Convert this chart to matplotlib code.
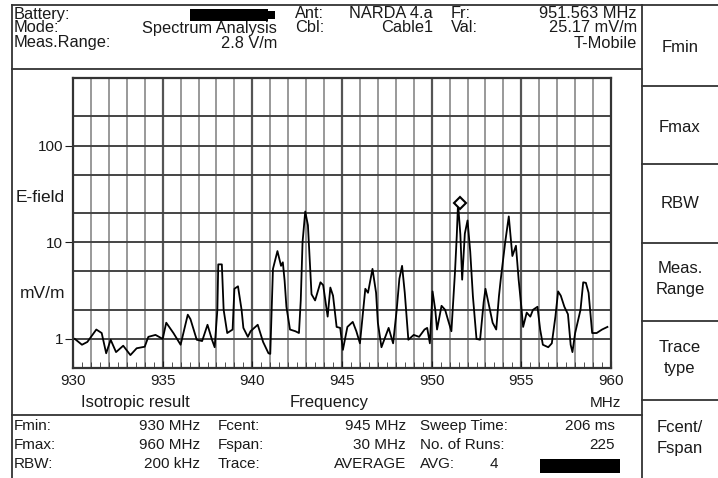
import matplotlib.pyplot as plt
from matplotlib.patches import Rectangle
from matplotlib.lines import Line2D

plt.rcParams['font.family'] = ['Liberation Sans', 'DejaVu Sans']

# spectrum trace (MHz, mV/m)
freq = [930.1, 930.5, 930.8, 931.3, 931.6, 931.85, 932.1, 932.4, 932.8, 933.2,
        933.55, 934.0, 934.2, 934.6, 935.0, 935.2, 935.6, 936.0, 936.4, 936.55,
        936.9, 937.2, 937.5, 937.75, 937.9, 938.05, 938.1, 938.3, 938.4, 938.6,
        938.9, 939.0, 939.2, 939.4, 939.5, 939.75, 939.9, 940.3, 940.6, 940.9,
        941.0, 941.15, 941.4, 941.6, 941.7, 941.8, 941.9, 942.1, 942.4, 942.6,
        942.7, 942.8, 942.95, 943.1, 943.3, 943.5, 943.8, 943.95, 944.2, 944.35,
        944.5, 944.7, 944.9, 945.05, 945.3, 945.6, 945.8, 946.0, 946.3, 946.45,
        946.7, 946.9, 947.0, 947.2, 947.6, 947.85, 948.05, 948.2, 948.35, 948.5,
        948.7, 949.0, 949.3, 949.6, 949.75, 949.9, 950.05, 950.2, 950.3, 950.55,
        950.75, 950.9, 951.1, 951.3, 951.4, 951.47, 951.6, 951.7, 951.85, 952.0,
        952.15, 952.3, 952.5, 952.7, 952.9, 953.0, 953.2, 953.4, 953.6, 953.75,
        953.85, 954.1, 954.3, 954.5, 954.7, 954.8, 954.85, 955.0, 955.1, 955.3,
        955.5, 955.65, 955.9, 956.05, 956.2, 956.5, 956.7, 956.9, 957.05, 957.2,
        957.4, 957.6, 957.75, 957.85, 958.0, 958.3, 958.45, 958.6, 958.75, 958.95,
        959.2, 959.5, 959.8]
efield = [1.0, 0.87, 0.93, 1.25, 1.15, 0.71, 0.98, 0.73, 0.85, 0.68,
          0.80, 0.83, 1.05, 1.10, 1.00, 1.47, 1.15, 0.87, 1.78, 1.6,
          0.98, 0.95, 1.40, 0.98, 0.82, 2.0, 5.9, 5.9, 2.0, 1.15,
          1.25, 3.3, 3.5, 2.0, 1.3, 1.05, 1.2, 1.4, 0.93, 0.71,
          0.70, 5.3, 8.1, 5.7, 6.2, 4.0, 2.15, 1.25, 1.2, 1.15,
          2.5, 10.0, 20.8, 15.0, 2.9, 2.5, 3.85, 3.6, 1.7, 3.4,
          2.8, 1.33, 1.3, 0.77, 1.33, 1.5, 1.2, 0.9, 3.3, 3.0,
          5.3, 3.0, 1.47, 0.82, 1.3, 0.90, 2.0, 4.2, 5.7, 3.0,
          0.98, 1.1, 1.05, 1.25, 1.3, 0.90, 3.1, 2.0, 1.25, 2.2,
          2.0, 1.6, 1.2, 4.9, 11.7, 25.2, 12.0, 4.1, 12.3, 16.8,
          8.0, 2.75, 1.0, 0.98, 2.4, 3.3, 2.2, 1.47, 1.25, 2.75,
          4.1, 10.0, 18.5, 7.2, 9.2, 5.3, 4.1, 2.15, 1.33, 1.87,
          1.7, 2.0, 2.15, 1.25, 0.87, 0.82, 0.90, 1.7, 3.1, 2.8,
          2.15, 1.8, 0.87, 0.73, 1.15, 2.0, 3.85, 3.8, 3.0, 1.15,
          1.15, 1.25, 1.33]
marker_f = 951.563
marker_v = 25.17

xticks = [930, 935, 940, 945, 950, 955, 960]
ygrid = [1, 2, 5, 10, 20, 50, 100, 200]
yticks = [1, 10, 100]

W, H = 718, 478
FS = 11
FH = 11.8
TC = '#1a1a1a'
LC = '#333333'

fig = plt.figure(figsize=(W / 100, H / 100), dpi=100)


def fx(x):
    return x / W


def fy(y):
    return 1 - y / H


def txt(x, y, s, ha='left', size=FS, **kw):
    fig.text(fx(x), fy(y), s, ha=ha, va='center', fontsize=size, color=TC, **kw)


def line(x0, y0, x1, y1, lw=1.3, c=LC):
    fig.add_artist(Line2D([fx(x0), fx(x1)], [fy(y0), fy(y1)], color=c, lw=lw))


def bar(x0, y0, x1, y1):
    fig.add_artist(Rectangle((fx(x0), fy(y1)), fx(x1) - fx(x0), fy(y0) - fy(y1),
                             transform=fig.transFigure, color='black', lw=0))


# frames
line(12, 5, 642, 5)
line(12, 69, 642, 69)
line(12, 415, 642, 415)
line(12, 5, 12, 478)
line(642, 5, 642, 478)
for y in [5, 86, 164, 243, 321, 400]:
    line(642, y, 718, y)

# header
txt(14, 14, 'Battery:', size=FH)
bar(190, 9, 268, 21)
bar(268, 11, 275, 19)
txt(14, 28, 'Mode:', size=FH)
txt(277, 28, 'Spectrum Analysis', ha='right', size=FH)
txt(14, 43, 'Meas.Range:', size=FH)
txt(277, 43, '2.8 V/m', ha='right', size=FH)
txt(295, 14, 'Ant:', size=FH)
txt(433, 14, 'NARDA 4.a', ha='right', size=FH)
txt(295, 28, 'Cbl:', size=FH)
txt(433, 28, 'Cable1', ha='right', size=FH)
txt(451, 14, 'Fr:', size=FH)
txt(637, 14, '951.563 MHz', ha='right', size=FH)
txt(451, 28, 'Val:', size=FH)
txt(637, 28, '25.17 mV/m', ha='right', size=FH)
txt(637, 43, 'T-Mobile', ha='right', size=FH)

# soft keys
for y, s in [(47, 'Fmin'), (127, 'Fmax'), (203, 'RBW'), (279, 'Meas.\nRange'),
             (358, 'Trace\ntype'), (438, 'Fcent/\nFspan')]:
    fig.text(fx(680), fy(y), s, ha='center', va='center', fontsize=12,
             color=TC, linespacing=1.45)

# plot
ax = fig.add_axes([fx(73), fy(368), fx(611) - fx(73), fy(78) - fy(368)])
ax.set_yscale('log')
ax.set_xlim(930, 960)
ax.set_ylim(0.5, 500)
for f in range(931, 960):
    c = '#555555' if f % 5 == 0 else '#999999'
    ax.axvline(f, color=c, lw=1.6 if f % 5 == 0 else 1.4, zorder=1)
for v in ygrid:
    ax.axhline(v, color='#444444', lw=1.4, zorder=1)
ax.plot(freq, efield, color='black', lw=1.3, zorder=3)
ax.plot([marker_f], [marker_v], marker='D', ms=6, mfc='white',
        mec='black', mew=1.5, zorder=4)
for s in ax.spines.values():
    s.set_color('#333333')
    s.set_linewidth(1.6)
ax.set_xticks(xticks)
ax.set_xticklabels([str(t) for t in xticks])
ax.set_xticks([930 + 0.5 * i for i in range(61)], minor=True)
ax.set_yticks(yticks)
ax.set_yticklabels(['1', '10', '100'])
ax.yaxis.set_minor_locator(plt.NullLocator())
ax.tick_params(axis='x', which='major', direction='in', length=5,
               labelsize=FS, colors=TC, pad=4)
ax.tick_params(axis='x', which='minor', direction='in', length=4, color=LC)
ax.tick_params(axis='y', which='major', direction='out', length=6,
               labelsize=FS, colors=TC, pad=1)

txt(65, 197, 'E-field', ha='right', size=12.5)
txt(65, 293, 'mV/m', ha='right', size=12.5)
txt(135, 403, 'Isotropic result', ha='center', size=12)
txt(329, 403, 'Frequency', ha='center', size=12)
txt(605, 403, 'MHz', ha='center')

# bottom info
rows = [426, 445, 464]
txt(14, rows[0], 'Fmin:')
txt(200, rows[0], '930 MHz', ha='right')
txt(14, rows[1], 'Fmax:')
txt(200, rows[1], '960 MHz', ha='right')
txt(14, rows[2], 'RBW:')
txt(200, rows[2], '200 kHz', ha='right')
txt(218, rows[0], 'Fcent:')
txt(406, rows[0], '945 MHz', ha='right')
txt(218, rows[1], 'Fspan:')
txt(406, rows[1], '30 MHz', ha='right')
txt(218, rows[2], 'Trace:')
txt(406, rows[2], 'AVERAGE', ha='right')
txt(420, rows[0], 'Sweep Time:')
txt(615, rows[0], '206 ms', ha='right')
txt(420, rows[1], 'No. of Runs:')
txt(615, rows[1], '225', ha='right')
txt(420, rows[2], 'AVG:')
txt(490, rows[2], '4')
bar(540, 459, 620, 473)

fig.savefig('out.png', dpi=100)
